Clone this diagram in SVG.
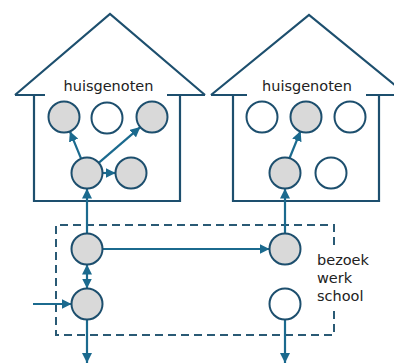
<svg xmlns="http://www.w3.org/2000/svg" width="394" height="364" viewBox="0 0 394 364">
<style>
.house{fill:none;stroke:#1d4f6e;stroke-width:2.2;stroke-linejoin:miter}
.c{stroke:#1d4f6e;stroke-width:2}
.g{fill:#d9d9d9}
.w{fill:#fff}
.ln{fill:none;stroke:#1b6a8e;stroke-width:2.2}
.arr{marker-end:url(#ah)}
.dash{fill:none;stroke:#2a5a75;stroke-width:2;stroke-dasharray:8 5}
text{font-family:"DejaVu Sans","Liberation Sans",sans-serif;font-size:14.5px;fill:#222}
</style>
<defs>
<marker id="ah" markerUnits="userSpaceOnUse" markerWidth="10" markerHeight="10" refX="10" refY="5" orient="auto-start-reverse" viewBox="0 0 10 10">
<path d="M0,0 L10,5 L0,10 z" fill="#1b6a8e"/>
</marker>
</defs>
<rect width="394" height="364" fill="#fff"/>
<g id="house-left">
<path class="house" d="M15,95 L110,14 L205,95 M15,95 H45 M167,95 H205 M34,95 V201 H180 V95"/>
<text x="108.5" y="91" text-anchor="middle">huisgenoten</text>
</g>
<g id="house-right">
<path class="house" d="M211,95 L309,15 L407,95 M211,95 H247 M366,95 H394 M233,95 V201 H379 V95"/>
<text x="307" y="91" text-anchor="middle">huisgenoten</text>
</g>
<g id="outside">
<path class="dash" d="M334,245 V225 H56 V335 H334 V309"/>
<text x="317" y="265">bezoek</text>
<text x="317" y="283">werk</text>
<text x="317" y="301">school</text>
</g>
<g id="connectors">
<line class="ln arr" x1="81.1" y1="158.7" x2="69.9" y2="131.3"/>
<line class="ln arr" x1="98.7" y1="162.9" x2="140.3" y2="127.1"/>
<line class="ln arr" x1="102.5" y1="173" x2="115.5" y2="173"/>
<line class="ln arr" x1="289.4" y1="158.5" x2="300.6" y2="131"/>
<line class="ln arr" x1="87" y1="233.5" x2="87" y2="188.5"/>
<line class="ln arr" x1="285" y1="233.5" x2="285" y2="188.5"/>
<line class="ln arr" x1="102.5" y1="249" x2="269.5" y2="249"/>
<line class="ln" x1="87" y1="264.5" x2="87" y2="288.5" marker-start="url(#ah)" marker-end="url(#ah)"/>
<line class="ln arr" x1="33" y1="304" x2="71.5" y2="304"/>
<line class="ln arr" x1="87" y1="319.5" x2="87" y2="363"/>
<line class="ln arr" x1="285" y1="319.5" x2="285" y2="363"/>
</g>
<g id="node-l1"><circle class="c g" cx="64" cy="117" r="15.5"/></g>
<g id="node-l2"><circle class="c w" cx="107" cy="118" r="15.5"/></g>
<g id="node-l3"><circle class="c g" cx="152" cy="117" r="15.5"/></g>
<g id="node-l4"><circle class="c g" cx="87" cy="173" r="15.5"/></g>
<g id="node-l5"><circle class="c g" cx="131" cy="173" r="15.5"/></g>
<g id="node-r1"><circle class="c w" cx="262" cy="117" r="15.5"/></g>
<g id="node-r2"><circle class="c g" cx="306" cy="117" r="15.5"/></g>
<g id="node-r3"><circle class="c w" cx="350" cy="117" r="15.5"/></g>
<g id="node-r4"><circle class="c g" cx="285" cy="173" r="15.5"/></g>
<g id="node-r5"><circle class="c w" cx="331" cy="173" r="15.5"/></g>
<g id="node-b1"><circle class="c g" cx="87" cy="249" r="15.5"/></g>
<g id="node-b2"><circle class="c g" cx="87" cy="304" r="15.5"/></g>
<g id="node-b3"><circle class="c g" cx="285" cy="249" r="15.5"/></g>
<g id="node-b4"><circle class="c w" cx="285" cy="304" r="15.5"/></g>
</svg>
